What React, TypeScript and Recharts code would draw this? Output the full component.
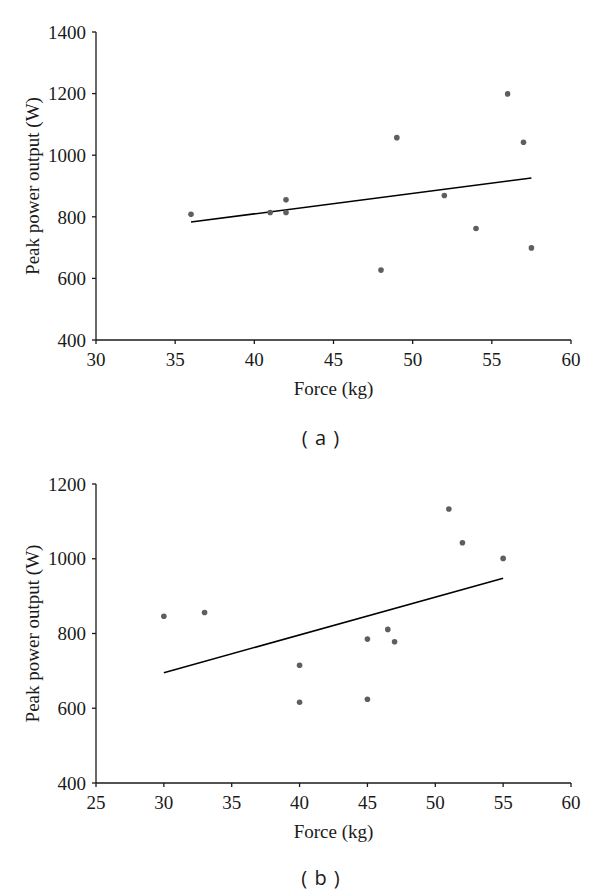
import React from "react";
import { ReferenceLine, Scatter, ScatterChart, XAxis, YAxis } from "recharts";

// Panel (a): grip force vs peak power
const forceA = [36, 41, 42, 42, 48, 49, 52, 54, 56, 57, 57.5];
const powerA = [808, 814, 855, 814, 627, 1057, 869, 762, 1199, 1042, 699];
const trendA = [
  { x: 36, y: 783 },
  { x: 57.5, y: 926 },
];
const xTicksA = [30, 35, 40, 45, 50, 55, 60];
const yTicksA = [400, 600, 800, 1000, 1200, 1400];

// Panel (b)
const forceB = [30, 33, 40, 40, 45, 45, 46.5, 47, 51, 52, 55];
const powerB = [846, 856, 715, 616, 785, 624, 811, 778, 1133, 1043, 1001];
const trendB = [
  { x: 30, y: 695 },
  { x: 55, y: 948 },
];
const xTicksB = [25, 30, 35, 40, 45, 50, 55, 60];
const yTicksB = [400, 600, 800, 1000, 1200];

const ink = "#1a1a1a";
const serif = "'Liberation Serif', 'Times New Roman', serif";
const tickStyle = { fill: ink, fontSize: 19, fontFamily: serif };

const dot = (p: any) => <circle cx={p.cx} cy={p.cy} r={2.8} fill="#5e5e5e" />;

function Panel({
  xs,
  ys,
  trend,
  xTicks,
  yTicks,
  top,
  bottomAxis,
}: {
  xs: number[];
  ys: number[];
  trend: { x: number; y: number }[];
  xTicks: number[];
  yTicks: number[];
  top: number;
  bottomAxis: number;
}) {
  const data = xs.map((x, i) => ({ x, y: ys[i] }));
  const h = 420;
  const xAxisH = h - bottomAxis;
  return (
    <ScatterChart width={600} height={h} margin={{ top, right: 29, bottom: 0, left: 0 }}>
      <XAxis
        type="number"
        dataKey="x"
        domain={[xTicks[0], xTicks[xTicks.length - 1]]}
        ticks={xTicks}
        height={xAxisH}
        tickSize={4}
        tickMargin={9}
        tick={tickStyle}
        axisLine={{ stroke: ink, strokeWidth: 1.3 }}
        tickLine={{ stroke: ink, strokeWidth: 1.3 }}
        label={{
          value: "Force (kg)",
          position: "insideBottom",
          offset: xAxisH - 55,
          fill: ink,
          fontSize: 19,
          fontFamily: serif,
        }}
      />
      <YAxis
        type="number"
        dataKey="y"
        domain={[yTicks[0], yTicks[yTicks.length - 1]]}
        ticks={yTicks}
        width={96}
        tickSize={4}
        tickMargin={6}
        tick={tickStyle}
        axisLine={{ stroke: ink, strokeWidth: 1.3 }}
        tickLine={{ stroke: ink, strokeWidth: 1.3 }}
        label={{
          value: "Peak power output (W)",
          angle: -90,
          position: "insideLeft",
          offset: 32,
          fill: ink,
          fontSize: 19,
          fontFamily: serif,
          style: { textAnchor: "middle" },
        }}
      />
      <ReferenceLine segment={trend} stroke="#000" strokeWidth={1.5} />
      <Scatter data={data} shape={dot} isAnimationActive={false} />
    </ScatterChart>
  );
}

const caption: React.CSSProperties = {
  position: "absolute",
  left: 0,
  width: 642,
  textAlign: "center",
  fontFamily: "'Open Sans', 'DejaVu Sans', sans-serif",
  fontSize: 20,
  letterSpacing: 1,
  color: ink,
  lineHeight: "20px",
};

export default function App() {
  return (
    <div style={{ position: "absolute", left: 0, top: 0, width: 600, height: 894, background: "#fff" }}>
      <div style={{ position: "absolute", left: 0, top: 0 }}>
        <Panel xs={forceA} ys={powerA} trend={trendA} xTicks={xTicksA} yTicks={yTicksA} top={32} bottomAxis={340} />
      </div>
      <div style={{ ...caption, top: 428 }}>( a )</div>
      <div style={{ position: "absolute", left: 0, top: 450 }}>
        <Panel xs={forceB} ys={powerB} trend={trendB} xTicks={xTicksB} yTicks={yTicksB} top={34} bottomAxis={333} />
      </div>
      <div style={{ ...caption, top: 868 }}>( b )</div>
    </div>
  );
}
